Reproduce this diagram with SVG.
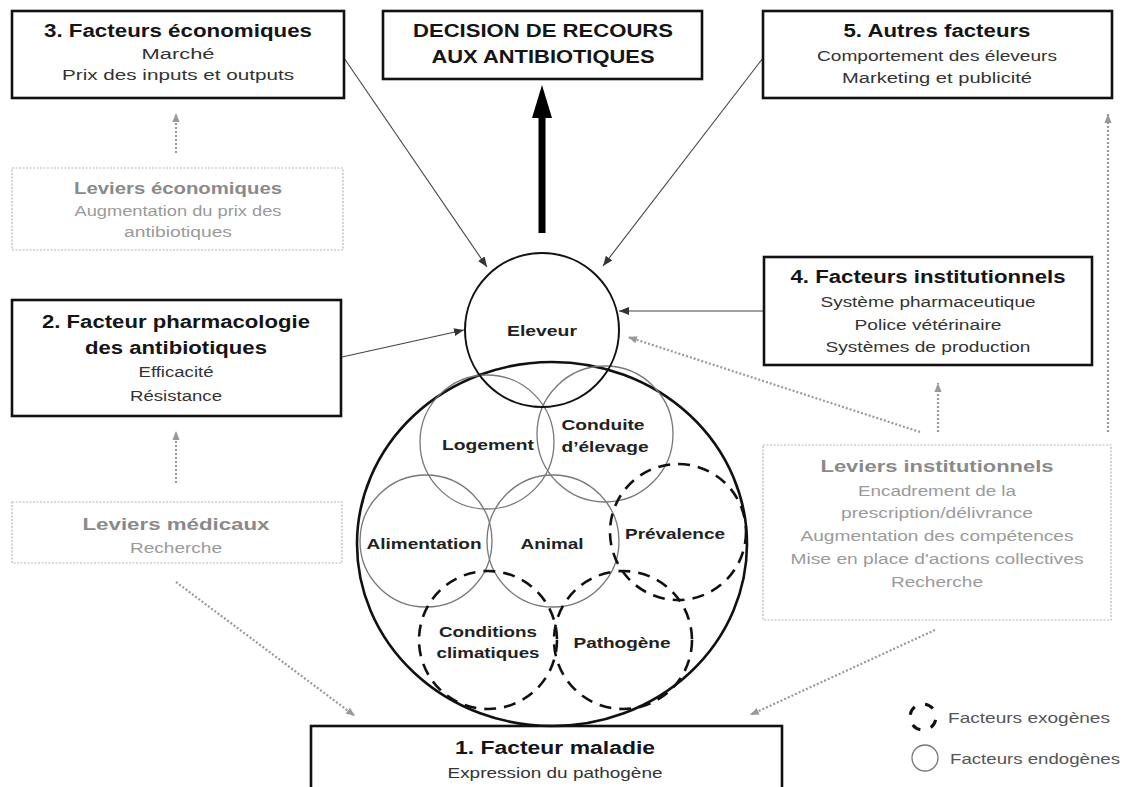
<svg xmlns="http://www.w3.org/2000/svg" width="1124" height="787" viewBox="0 0 1124 787">
<defs>
<style>
text{font-family:"Liberation Sans",Arial,sans-serif;text-anchor:middle}
.box{fill:#fff;stroke:#111;stroke-width:2.6}
.lev{fill:#fff;stroke:#b5b5b5;stroke-width:1.2;stroke-dasharray:2 1.5}
.t{font-size:18px;font-weight:bold;fill:#151515}
.s{font-size:15.5px;fill:#333}
.lt{font-size:17px;font-weight:bold;fill:#8a8a8a}
.ls{font-size:15.5px;fill:#9a9a9a}
.lab{font-size:15px;font-weight:bold;fill:#222}
.endo{fill:none;stroke:#777;stroke-width:1.3}
.exo{fill:none;stroke:#111;stroke-width:2.6;stroke-dasharray:12 8}
.thin{fill:none;stroke:#444;stroke-width:1.1}
.dot{fill:none;stroke:#999;stroke-width:2.2;stroke-dasharray:2 2}
</style>
<marker id="ah" viewBox="0 0 10 10" refX="10" refY="5" markerWidth="10" markerHeight="10" markerUnits="userSpaceOnUse" orient="auto">
<path d="M0,1 L10,5 L0,9 Z" fill="#333"/>
</marker>
<marker id="ag" viewBox="0 0 10 10" refX="10" refY="5" markerWidth="9" markerHeight="9" markerUnits="userSpaceOnUse" orient="auto">
<path d="M0,1 L10,5 L0,9 Z" fill="#999"/>
</marker>
</defs>
<rect width="1124" height="787" fill="#fff"/>

<g id="connectors">
<line class="thin" x1="344" y1="58" x2="487" y2="267" marker-end="url(#ah)"/>
<line class="thin" x1="763" y1="58" x2="603" y2="266" marker-end="url(#ah)"/>
<line class="thin" x1="342" y1="357" x2="464" y2="330" marker-end="url(#ah)"/>
<line class="thin" x1="764" y1="311" x2="619" y2="311" marker-end="url(#ah)"/>
<rect x="538.5" y="116" width="7" height="117" fill="#000"/>
<polygon points="532,118 552,118 542,85" fill="#000"/>
<line class="dot" x1="176" y1="153" x2="176" y2="113" marker-end="url(#ag)"/>
<line class="dot" x1="176" y1="483" x2="176" y2="431" marker-end="url(#ag)"/>
<line class="dot" x1="176" y1="582" x2="355" y2="716" marker-end="url(#ag)"/>
<line class="dot" x1="935" y1="630" x2="750" y2="715" marker-end="url(#ag)"/>
<line class="dot" x1="920" y1="432" x2="628" y2="337" marker-end="url(#ag)"/>
<line class="dot" x1="938" y1="432" x2="938" y2="383" marker-end="url(#ag)"/>
<line class="dot" x1="1108" y1="432" x2="1108" y2="114" marker-end="url(#ag)"/>
</g>

<g id="n3">
<rect class="box" x="12" y="11" width="332" height="87"/>
<text class="t" x="178" y="37" textLength="268" lengthAdjust="spacingAndGlyphs">3. Facteurs économiques</text>
<text class="s" x="178" y="59" textLength="73" lengthAdjust="spacingAndGlyphs">Marché</text>
<text class="s" x="178" y="80" textLength="232" lengthAdjust="spacingAndGlyphs">Prix des inputs et outputs</text>
</g>
<g id="ndecision">
<rect class="box" x="383" y="11" width="319" height="68"/>
<text class="t" x="543" y="37" textLength="260" lengthAdjust="spacingAndGlyphs">DECISION DE RECOURS</text>
<text class="t" x="543" y="63" textLength="223" lengthAdjust="spacingAndGlyphs">AUX ANTIBIOTIQUES</text>
</g>
<g id="n5">
<rect class="box" x="763" y="11" width="349" height="87"/>
<text class="t" x="937" y="37" textLength="187" lengthAdjust="spacingAndGlyphs">5. Autres facteurs</text>
<text class="s" x="937" y="61" textLength="240" lengthAdjust="spacingAndGlyphs">Comportement des éleveurs</text>
<text class="s" x="937" y="83" textLength="190" lengthAdjust="spacingAndGlyphs">Marketing et publicité</text>
</g>
<g id="levEco">
<rect class="lev" x="12" y="168" width="331" height="82"/>
<text class="lt" x="178" y="194" textLength="208" lengthAdjust="spacingAndGlyphs">Leviers économiques</text>
<text class="ls" x="178" y="216" textLength="207" lengthAdjust="spacingAndGlyphs">Augmentation du prix des</text>
<text class="ls" x="178" y="237" textLength="108" lengthAdjust="spacingAndGlyphs">antibiotiques</text>
</g>
<g id="n2">
<rect class="box" x="12" y="300" width="329" height="116"/>
<text class="t" x="176" y="328" textLength="268" lengthAdjust="spacingAndGlyphs">2. Facteur pharmacologie</text>
<text class="t" x="176" y="354" textLength="182" lengthAdjust="spacingAndGlyphs">des antibiotiques</text>
<text class="s" x="176" y="377" textLength="75" lengthAdjust="spacingAndGlyphs">Efficacité</text>
<text class="s" x="176" y="401" textLength="92" lengthAdjust="spacingAndGlyphs">Résistance</text>
</g>
<g id="levMed">
<rect class="lev" x="12" y="502" width="330" height="61"/>
<text class="lt" x="176" y="530" textLength="187" lengthAdjust="spacingAndGlyphs">Leviers médicaux</text>
<text class="ls" x="176" y="553" textLength="92" lengthAdjust="spacingAndGlyphs">Recherche</text>
</g>
<g id="n4">
<rect class="box" x="764" y="257" width="328" height="108"/>
<text class="t" x="928" y="283" textLength="275" lengthAdjust="spacingAndGlyphs">4. Facteurs institutionnels</text>
<text class="s" x="928" y="307" textLength="215" lengthAdjust="spacingAndGlyphs">Système pharmaceutique</text>
<text class="s" x="928" y="330" textLength="147" lengthAdjust="spacingAndGlyphs">Police vétérinaire</text>
<text class="s" x="928" y="352" textLength="205" lengthAdjust="spacingAndGlyphs">Systèmes de production</text>
</g>
<g id="levInst">
<rect class="lev" x="763" y="445" width="348" height="175"/>
<text class="lt" x="937" y="472" textLength="233" lengthAdjust="spacingAndGlyphs">Leviers institutionnels</text>
<text class="ls" x="937" y="496" textLength="158" lengthAdjust="spacingAndGlyphs">Encadrement de la</text>
<text class="ls" x="937" y="518" textLength="192" lengthAdjust="spacingAndGlyphs">prescription/délivrance</text>
<text class="ls" x="937" y="541" textLength="273" lengthAdjust="spacingAndGlyphs">Augmentation des compétences</text>
<text class="ls" x="937" y="564" textLength="293" lengthAdjust="spacingAndGlyphs">Mise en place d'actions collectives</text>
<text class="ls" x="937" y="587" textLength="92" lengthAdjust="spacingAndGlyphs">Recherche</text>
</g>
<g id="n1">
<rect class="box" x="311" y="726" width="471" height="80"/>
<text class="t" x="555" y="754" textLength="200" lengthAdjust="spacingAndGlyphs">1.  Facteur maladie</text>
<text class="s" x="555" y="778" textLength="215" lengthAdjust="spacingAndGlyphs">Expression du pathogène</text>
</g>

<g id="bigCircle">
<ellipse cx="552" cy="544" rx="195" ry="182" fill="none" stroke="#111" stroke-width="2.6"/>
</g>
<g id="logement">
<circle class="endo" cx="487" cy="442" r="67"/>
<text class="lab" x="488" y="450" textLength="92" lengthAdjust="spacingAndGlyphs">Logement</text>
</g>
<g id="conduite">
<circle class="endo" cx="605" cy="434" r="68"/>
<text class="lab" x="603" y="430" textLength="83" lengthAdjust="spacingAndGlyphs">Conduite</text>
<text class="lab" x="605" y="452" textLength="87" lengthAdjust="spacingAndGlyphs">d’élevage</text>
</g>
<g id="alimentation">
<circle class="endo" cx="426" cy="541" r="66"/>
<text class="lab" x="424" y="549" textLength="115" lengthAdjust="spacingAndGlyphs">Alimentation</text>
</g>
<g id="animal">
<circle class="endo" cx="553" cy="541" r="66"/>
<text class="lab" x="552" y="549" textLength="63" lengthAdjust="spacingAndGlyphs">Animal</text>
</g>
<g id="prevalence">
<circle class="exo" cx="678" cy="532" r="68"/>
<text class="lab" x="675" y="539" textLength="100" lengthAdjust="spacingAndGlyphs">Prévalence</text>
</g>
<g id="conditions">
<circle class="exo" cx="488" cy="640" r="69"/>
<text class="lab" x="488" y="637" textLength="98" lengthAdjust="spacingAndGlyphs">Conditions</text>
<text class="lab" x="488" y="658" textLength="103" lengthAdjust="spacingAndGlyphs">climatiques</text>
</g>
<g id="pathogene">
<circle class="exo" cx="623" cy="640" r="69"/>
<text class="lab" x="622" y="648" textLength="97" lengthAdjust="spacingAndGlyphs">Pathogène</text>
</g>
<g id="eleveur">
<circle cx="542" cy="330" r="77" fill="none" stroke="#111" stroke-width="2"/>
<text class="lab" x="542" y="336" textLength="70" lengthAdjust="spacingAndGlyphs">Eleveur</text>
</g>

<g id="legend">
<circle cx="923" cy="717" r="13" fill="none" stroke="#111" stroke-width="3" stroke-dasharray="9 11" stroke-dashoffset="-3"/>
<text x="1029" y="723" font-size="14" fill="#555" textLength="162" lengthAdjust="spacingAndGlyphs">Facteurs exogènes</text>
<circle cx="925" cy="758" r="13" fill="none" stroke="#777" stroke-width="1.3"/>
<text x="1035" y="764" font-size="14" fill="#555" textLength="170" lengthAdjust="spacingAndGlyphs">Facteurs endogènes</text>
</g>
</svg>
